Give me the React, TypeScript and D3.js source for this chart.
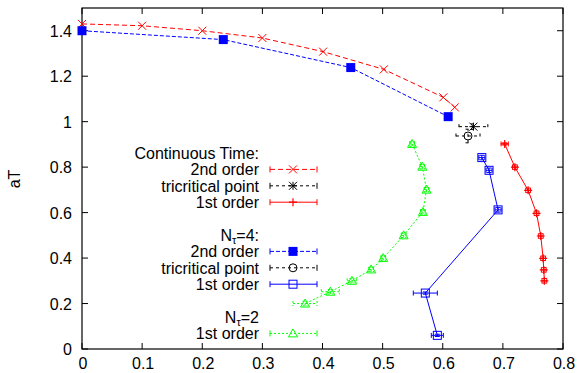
import React from "react";
import * as d3 from "d3";

type Pt = { x: number; y: number; dx: number; dy: number };

const ct2nd: Pt[] = [
  { x: 0.0, y: 1.43, dx: 0, dy: 0 },
  { x: 0.1, y: 1.422, dx: 0, dy: 0 },
  { x: 0.2, y: 1.40, dx: 0, dy: 0 },
  { x: 0.3, y: 1.368, dx: 0, dy: 0 },
  { x: 0.401, y: 1.308, dx: 0, dy: 0 },
  { x: 0.502, y: 1.23, dx: 0, dy: 0 },
  { x: 0.601, y: 1.107, dx: 0, dy: 0 },
  { x: 0.62, y: 1.063, dx: 0, dy: 0 },
];
const ctTri: Pt[] = [{ x: 0.651, y: 0.978, dx: 0.024, dy: 0.012 }];
const ct1st: Pt[] = [
  { x: 0.703, y: 0.902, dx: 0.006, dy: 0.005 },
  { x: 0.72, y: 0.80, dx: 0.004, dy: 0.01 },
  { x: 0.742, y: 0.698, dx: 0.004, dy: 0.01 },
  { x: 0.756, y: 0.597, dx: 0.004, dy: 0.01 },
  { x: 0.763, y: 0.497, dx: 0.004, dy: 0.01 },
  { x: 0.767, y: 0.399, dx: 0.004, dy: 0.01 },
  { x: 0.768, y: 0.348, dx: 0.004, dy: 0.01 },
  { x: 0.769, y: 0.30, dx: 0.004, dy: 0.01 },
];
const n4_2nd: Pt[] = [
  { x: 0.0, y: 1.40, dx: 0, dy: 0 },
  { x: 0.235, y: 1.361, dx: 0, dy: 0 },
  { x: 0.447, y: 1.238, dx: 0, dy: 0 },
  { x: 0.609, y: 1.022, dx: 0, dy: 0 },
];
const n4Tri: Pt[] = [{ x: 0.642, y: 0.937, dx: 0.02, dy: 0.03 }];
const n4_1st: Pt[] = [
  { x: 0.665, y: 0.842, dx: 0.005, dy: 0.01 },
  { x: 0.677, y: 0.786, dx: 0.005, dy: 0.01 },
  { x: 0.692, y: 0.612, dx: 0.005, dy: 0.01 },
  { x: 0.571, y: 0.246, dx: 0.02, dy: 0.005 },
  { x: 0.591, y: 0.06, dx: 0.01, dy: 0.005 },
];
const n2_1st: Pt[] = [
  { x: 0.549, y: 0.902, dx: 0.004, dy: 0.01 },
  { x: 0.566, y: 0.802, dx: 0.004, dy: 0.01 },
  { x: 0.573, y: 0.701, dx: 0.004, dy: 0.01 },
  { x: 0.567, y: 0.603, dx: 0.004, dy: 0.01 },
  { x: 0.535, y: 0.50, dx: 0.004, dy: 0.01 },
  { x: 0.501, y: 0.40, dx: 0.004, dy: 0.01 },
  { x: 0.481, y: 0.35, dx: 0.004, dy: 0.01 },
  { x: 0.449, y: 0.30, dx: 0.008, dy: 0.01 },
  { x: 0.413, y: 0.252, dx: 0.015, dy: 0.01 },
  { x: 0.371, y: 0.20, dx: 0.02, dy: 0.01 },
];

const xTicks = [0, 0.1, 0.2, 0.3, 0.4, 0.5, 0.6, 0.7, 0.8];
const yTicks = [0, 0.2, 0.4, 0.6, 0.8, 1.0, 1.2, 1.4];

const W = 578, H = 373;
const L = 82, R = 563, T = 8, B = 349;
const FONT = "'Liberation Sans', Arial, Helvetica, sans-serif";
const FS = 16;

type Sym = "cross" | "star" | "plus" | "fsquare" | "circle" | "osquare" | "tri";

function Marker({ sym, cx, cy, color }: { sym: Sym; cx: number; cy: number; color: string }) {
  const s = 4;
  switch (sym) {
    case "cross":
      return <path d={`M${cx - s},${cy - s}L${cx + s},${cy + s}M${cx - s},${cy + s}L${cx + s},${cy - s}`} stroke={color} strokeWidth={1} fill="none" />;
    case "plus":
      return <path d={`M${cx - s},${cy}L${cx + s},${cy}M${cx},${cy - s}L${cx},${cy + s}`} stroke={color} strokeWidth={1.2} fill="none" />;
    case "star":
      return <path d={`M${cx - s},${cy}L${cx + s},${cy}M${cx},${cy - s}L${cx},${cy + s}M${cx - s},${cy - s}L${cx + s},${cy + s}M${cx - s},${cy + s}L${cx + s},${cy - s}`} stroke={color} strokeWidth={1} fill="none" />;
    case "fsquare":
      return <rect x={cx - 4.5} y={cy - 4.5} width={9} height={9} fill={color} />;
    case "osquare":
      return <rect x={cx - 4} y={cy - 4} width={8} height={8} fill="none" stroke={color} strokeWidth={1} />;
    case "circle":
      return <circle cx={cx} cy={cy} r={4} fill="none" stroke={color} strokeWidth={1} />;
    case "tri":
      return <path d={`M${cx},${cy - 4.5}L${cx + 4.5},${cy + 3.5}L${cx - 4.5},${cy + 3.5}Z`} fill="none" stroke={color} strokeWidth={1} />;
  }
}

type Series = { data: Pt[]; color: string; dash: string; sym: Sym; err: boolean };

export default function App() {
  const x = d3.scaleLinear().domain([0, 0.8]).range([L, R]);
  const y = d3.scaleLinear().domain([0, 1.5]).range([B, T]);

  const series: Series[] = [
    { data: ct2nd, color: "#ff0000", dash: "5,3", sym: "cross", err: false },
    { data: n4_2nd, color: "#0000ff", dash: "4,2", sym: "fsquare", err: false },
    { data: ctTri, color: "#000000", dash: "3,3", sym: "star", err: true },
    { data: n4Tri, color: "#000000", dash: "3,3", sym: "circle", err: true },
    { data: ct1st, color: "#ff0000", dash: "", sym: "plus", err: true },
    { data: n4_1st, color: "#0000ff", dash: "", sym: "osquare", err: true },
    { data: n2_1st, color: "#00ff00", dash: "2,2", sym: "tri", err: true },
  ];

  const line = d3.line<Pt>().x((d) => x(d.x)).y((d) => y(d.y));

  const errBars = (d: Pt, color: string, dash: string, k: number) => {
    const px = x(d.x), py = y(d.y);
    const x0 = x(d.x - d.dx), x1 = x(d.x + d.dx);
    const y0 = y(d.y - d.dy), y1 = y(d.y + d.dy);
    const c = 2.5;
    return (
      <path key={k}
        d={`M${x0},${py}L${x1},${py}M${x0},${py - c}L${x0},${py + c}M${x1},${py - c}L${x1},${py + c}` +
          `M${px},${y0}L${px},${y1}M${px - c},${y0}L${px + c},${y0}M${px - c},${y1}L${px + c},${y1}`}
        stroke={color} strokeWidth={1} fill="none" strokeDasharray={dash || undefined} />
    );
  };

  const legX = 259, sx0 = 270, sx1 = 317, smid = 293;
  const rowY = (i: number) => 159 + i * 16.4;
  type LegRow = { text: React.ReactNode; s?: Series };
  const sub = (tail: string) => (
    <>N<tspan fontSize={11} baselineShift="-30%">τ</tspan>{tail}</>
  );
  const rows: (LegRow | null)[] = [
    { text: "Continuous Time:" },
    { text: "2nd order", s: series[0] },
    { text: "tricritical point", s: series[2] },
    { text: "1st order", s: series[4] },
    null,
    { text: sub("=4:") },
    { text: "2nd order", s: series[1] },
    { text: "tricritical point", s: series[3] },
    { text: "1st order", s: series[5] },
    null,
    { text: sub("=2") },
    { text: "1st order", s: series[6] },
  ];

  return (
    <svg width={W} height={H} style={{ position: "absolute", left: 0, top: 0, background: "#fff" }} fontFamily={FONT}>
      <rect x={0} y={0} width={W} height={H} fill="#fff" />
      {xTicks.map((t, i) => (
        <g key={"x" + i}>
          <line x1={x(t)} x2={x(t)} y1={B} y2={B - 6} stroke="#000" />
          <line x1={x(t)} x2={x(t)} y1={T} y2={T + 6} stroke="#000" />
          <text x={x(t) + 1} y={369} fontSize={FS} textAnchor="middle">{String(+t.toFixed(1))}</text>
        </g>
      ))}
      {yTicks.map((t, i) => (
        <g key={"y" + i}>
          <line x1={L} x2={L + 6} y1={y(t)} y2={y(t)} stroke="#000" />
          <line x1={R} x2={R - 6} y1={y(t)} y2={y(t)} stroke="#000" />
          <text x={72} y={y(t) + 6} fontSize={FS} textAnchor="end">{String(+t.toFixed(1))}</text>
        </g>
      ))}
      <rect x={L} y={T} width={R - L} height={B - T} fill="none" stroke="#000" strokeWidth={1.2} />
      <text transform={`translate(20,179) rotate(-90)`} fontSize={FS} textAnchor="middle">aT</text>

      {series.map((s, si) => (
        <g key={si}>
          {s.data.length > 1 && (
            <path d={line(s.data) || ""} fill="none" stroke={s.color} strokeWidth={1} strokeDasharray={s.dash || undefined} />
          )}
          {s.err && s.data.map((d, k) => errBars(d, s.color, s.dash, k))}
          {s.data.map((d, k) => <Marker key={k} sym={s.sym} cx={x(d.x)} cy={y(d.y)} color={s.color} />)}
        </g>
      ))}

      {rows.map((r, i) => r && (
        <g key={"l" + i}>
          <text x={legX} y={rowY(i)} fontSize={FS} textAnchor="end">{r.text}</text>
          {r.s && (
            <g>
              <line x1={sx0} x2={sx1} y1={rowY(i) - 6} y2={rowY(i) - 6} stroke={r.s.color} strokeDasharray={r.s.dash || undefined} />
              <line x1={sx0} x2={sx0} y1={rowY(i) - 9} y2={rowY(i) - 3} stroke={r.s.color} />
              <line x1={sx1} x2={sx1} y1={rowY(i) - 9} y2={rowY(i) - 3} stroke={r.s.color} />
              <Marker sym={r.s.sym} cx={smid} cy={rowY(i) - 6} color={r.s.color} />
            </g>
          )}
        </g>
      ))}
    </svg>
  );
}
